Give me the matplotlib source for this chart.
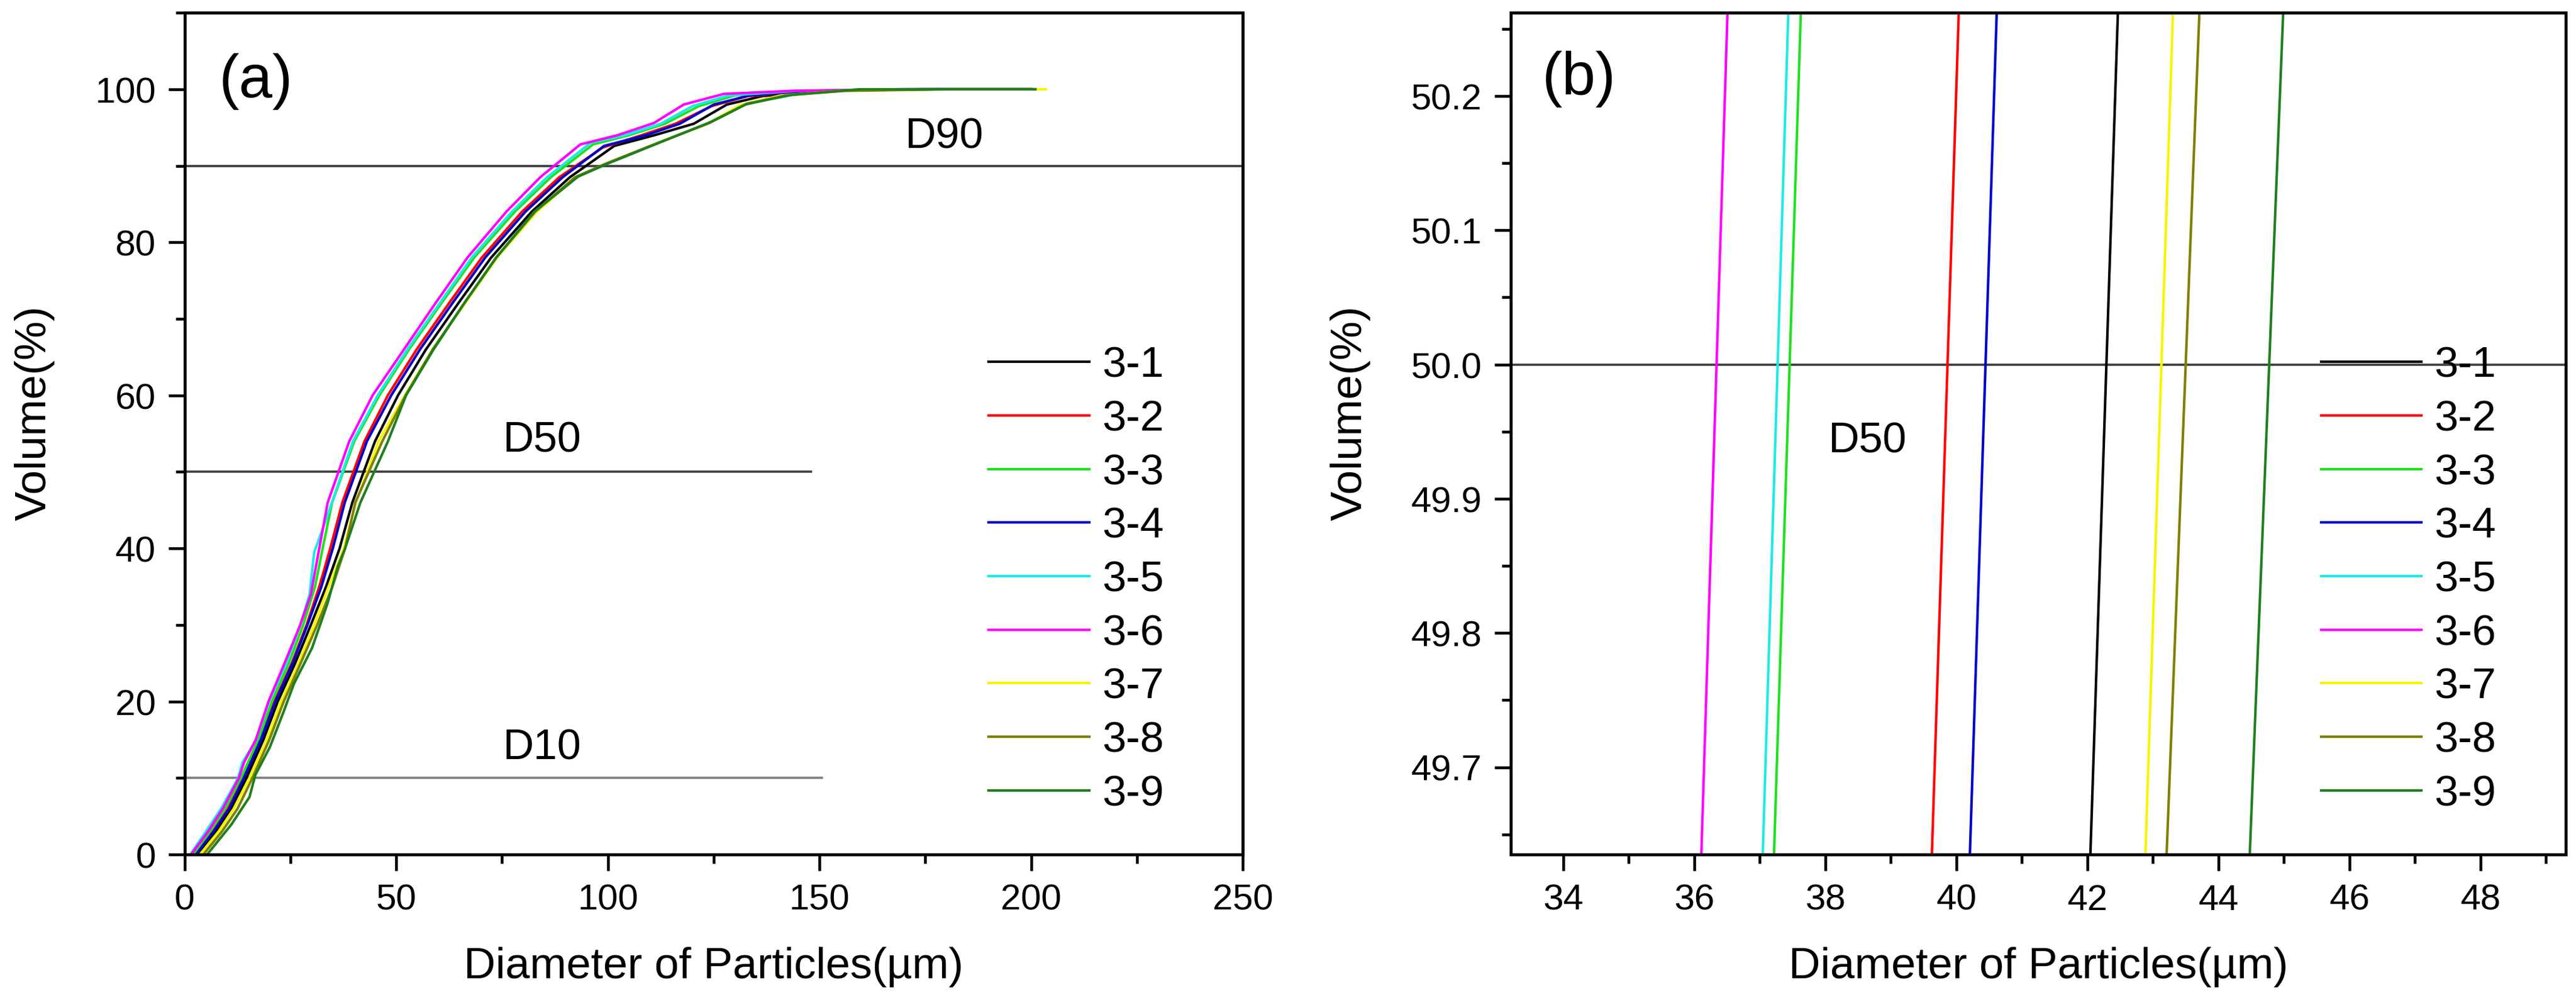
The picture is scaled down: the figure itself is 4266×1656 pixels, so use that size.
import matplotlib
matplotlib.use('Agg')
import matplotlib.pyplot as plt
from matplotlib.ticker import MultipleLocator, FormatStrFormatter

plt.rcParams['font.family'] = ['Liberation Sans', 'DejaVu Sans']

# cumulative volume (%) vs particle diameter (um)
d31 = [3.2, 7.4, 11.0, 14.6, 18.6, 22.0, 26.1, 29.8, 33.4, 36.6, 39.61, 44.97, 50.4, 57.0, 64.6, 72.4, 82.0, 91.0, 101.5, 111.0, 120.3, 128.1, 136.4, 150.0, 178, 200]
v31 = [0, 3, 6, 10, 15, 20, 25, 30, 35, 40, 46, 54, 60, 66, 72, 78, 84, 88.5, 92.6, 94.0, 95.5, 98.0, 99.1, 99.8, 100, 100]

d32 = [2.5, 6.6, 10.2, 13.8, 17.8, 21.2, 25.3, 28.8, 31.8, 34.4, 37.25, 42.48, 48.0, 54.8, 62.4, 70.2, 79.7, 88.5, 98.8, 108.0, 116.0, 124.5, 133.0, 148.0, 175, 200]
v32 = [0, 3, 6, 10, 15, 20, 25, 30, 35, 40, 46, 54, 60, 66, 72, 78, 84, 88.5, 92.4, 94.0, 95.5, 97.8, 99.1, 99.8, 100, 100]

d33 = [2.0, 6.0, 9.6, 13.3, 17.4, 20.6, 24.6, 28.0, 30.8, 32.6, 34.84, 40.07, 46.0, 53.0, 60.6, 68.4, 78.0, 86.5, 96.5, 105.0, 113.5, 121.5, 130.0, 146.0, 172, 200]
v33 = [0, 3, 6, 10, 15, 20, 25, 30, 35, 40, 46, 54, 60, 66, 72, 78, 84, 88.5, 92.8, 94.0, 95.5, 97.8, 99.2, 99.8, 100, 100]

d34 = [2.7, 6.8, 10.5, 14.0, 18.0, 21.4, 25.5, 29.0, 32.3, 35.0, 37.83, 43.06, 48.8, 55.6, 63.2, 71.0, 80.5, 89.3, 99.1, 109.0, 117.0, 125.0, 133.5, 148.0, 175, 200]
v34 = [0, 3, 6, 10, 15, 20, 25, 30, 35, 40, 46, 54, 60, 66, 72, 78, 84, 88.5, 92.6, 94.0, 95.5, 98.0, 99.2, 99.8, 100, 100]

d35 = [1.3, 5.0, 8.6, 12.6, 13.6, 16.9, 19.9, 24.0, 27.3, 29.5, 30.6, 33.54, 39.76, 45.6, 52.6, 60.2, 67.8, 77.3, 85.6, 95.9, 104.0, 112.5, 120.0, 128.5, 145.0, 170, 200]
v35 = [0, 3, 6, 10, 12, 15, 20, 25, 30, 34, 39.5, 44, 54, 60, 66, 72, 78, 84, 88.5, 93.0, 94.0, 95.5, 97.8, 99.2, 99.8, 100, 100]

d36 = [1.5, 5.5, 9.0, 12.8, 14.0, 16.8, 19.8, 23.6, 27.3, 29.8, 31.8, 33.79, 38.89, 44.4, 51.8, 59.2, 66.8, 76.0, 84.0, 93.5, 102.3, 110.9, 117.9, 127.4, 143.8, 170, 200]
v36 = [0, 3, 6, 10, 12, 15, 20, 25, 30, 34, 40, 46, 54, 60, 66, 72, 78, 84, 88.5, 92.8, 94.0, 95.6, 98.0, 99.4, 99.8, 100, 100]

d37 = [3.6, 8.0, 11.6, 15.3, 19.4, 22.8, 26.9, 30.6, 34.0, 37.6, 40.45, 45.81, 52.0, 58.6, 66.2, 73.8, 83.2, 92.5, 99.8, 112.0, 123.5, 131.5, 141.0, 155.0, 180, 203.5]
v37 = [0, 3, 6, 10, 15, 20, 25, 30, 35, 40, 46, 54, 60, 66, 72, 78, 84, 88.5, 90.3, 93.0, 95.5, 98.0, 99.2, 99.8, 100, 100]

d38 = [4.4, 8.8, 12.5, 16.0, 20.0, 23.4, 27.4, 31.3, 34.9, 37.9, 40.31, 46.69, 52.2, 58.6, 66.0, 73.6, 82.8, 92.2, 99.6, 112.3, 124.0, 132.5, 142.0, 156.0, 180, 201]
v38 = [0, 3, 6, 10, 15, 20, 25, 30, 35, 40, 46, 54, 60, 66, 72, 78, 84, 88.5, 90.3, 93.1, 95.6, 98.0, 99.2, 99.8, 100, 100]

d39 = [5.3, 11.0, 15.3, 16.7, 20.1, 23.4, 25.8, 30.1, 33.8, 36.2, 37.9, 41.52, 48.03, 52.3, 58.8, 66.0, 73.6, 82.6, 93.0, 100.0, 112.5, 124.2, 132.8, 143.8, 159.5, 201]
v39 = [0, 3.9, 7.5, 10.4, 14.0, 18.7, 22.3, 27.0, 32.9, 37.7, 40, 46, 54, 60, 66, 72, 78, 84, 88.6, 90.3, 93.1, 95.7, 98.1, 99.3, 100, 100]

labels = ['3-1', '3-2', '3-3', '3-4', '3-5', '3-6', '3-7', '3-8', '3-9']
colors = ['#000000', '#FF0000', '#20E020', '#0000CC', '#20E8E8',
          '#FF00FF', '#F5F500', '#808000', '#1F7F1F']
diams = [d31, d32, d33, d34, d35, d36, d37, d38, d39]
vols = [v31, v32, v33, v34, v35, v36, v37, v38, v39]

fig = plt.figure(figsize=(14.22, 5.523), dpi=300)
ax1 = fig.add_axes([0.0717, 0.1454, 0.4107, 0.8413])
ax2 = fig.add_axes([0.5865, 0.1454, 0.4095, 0.8413])

for ax in (ax1, ax2):
    for d, v, lab, c in zip(diams, vols, labels, colors):
        ax.plot(d, v, color=c, lw=1.0, label=lab)
    for s in ax.spines.values():
        s.set_linewidth(1.2)
    ax.tick_params(which='both', direction='out', width=1.1, labelsize=14.5,
                   top=False, right=False, pad=5)
    ax.tick_params(which='major', length=6.5)
    ax.tick_params(which='minor', length=3.5)
    ax.set_xlabel('Diameter of Particles(\u00b5m)', fontsize=17.5, va='center')
    ax.set_ylabel('Volume(%)', fontsize=17.5, va='center')
    ax.xaxis.set_label_coords(0.5, -0.133)
    ax.legend(loc='center left', frameon=False, fontsize=17, borderpad=0,
              borderaxespad=0, labelspacing=0.32, handlelength=2.35,
              handletextpad=0.3,
              bbox_to_anchor=(0.760 if ax is ax1 else 0.768, 0.326))

# panel (a)
ax1.set_xlim(0, 250)
ax1.set_ylim(0, 110)
ax1.xaxis.set_major_locator(MultipleLocator(50))
ax1.xaxis.set_minor_locator(MultipleLocator(25))
ax1.yaxis.set_major_locator(MultipleLocator(20))
ax1.yaxis.set_minor_locator(MultipleLocator(10))
ax1.yaxis.set_label_coords(-0.142, 0.525)
ax1.plot([0, 250], [90, 90], color='#404040', lw=0.9, zorder=1)
ax1.plot([0, 148], [50, 50], color='#404040', lw=0.9, zorder=1)
ax1.plot([0, 150.5], [10, 10], color='#808080', lw=0.9, zorder=1)
ax1.text(179.4, 93.8, 'D90', fontsize=17, ha='center', va='center')
ax1.text(84.4, 54.1, 'D50', fontsize=17, ha='center', va='center')
ax1.text(84.4, 13.9, 'D10', fontsize=17, ha='center', va='center')
ax1.text(16.8, 101.1, '(a)', fontsize=24, ha='center', va='center')

# panel (b): zoom at D50
ax2.set_xlim(33.2, 49.3)
ax2.set_ylim(49.635, 50.262)
ax2.xaxis.set_major_locator(MultipleLocator(2))
ax2.xaxis.set_minor_locator(MultipleLocator(1))
ax2.yaxis.set_major_locator(MultipleLocator(0.1))
ax2.yaxis.set_minor_locator(MultipleLocator(0.05))
ax2.yaxis.set_major_formatter(FormatStrFormatter('%.1f'))
ax2.yaxis.set_label_coords(-0.152, 0.525)
ax2.axhline(50.0, color='#404040', lw=0.9, zorder=1)
ax2.text(38.64, 49.943, 'D50', fontsize=17, ha='center', va='center')
ax2.text(34.24, 50.213, '(b)', fontsize=24, ha='center', va='center')

fig.savefig('out.png', dpi=300)
